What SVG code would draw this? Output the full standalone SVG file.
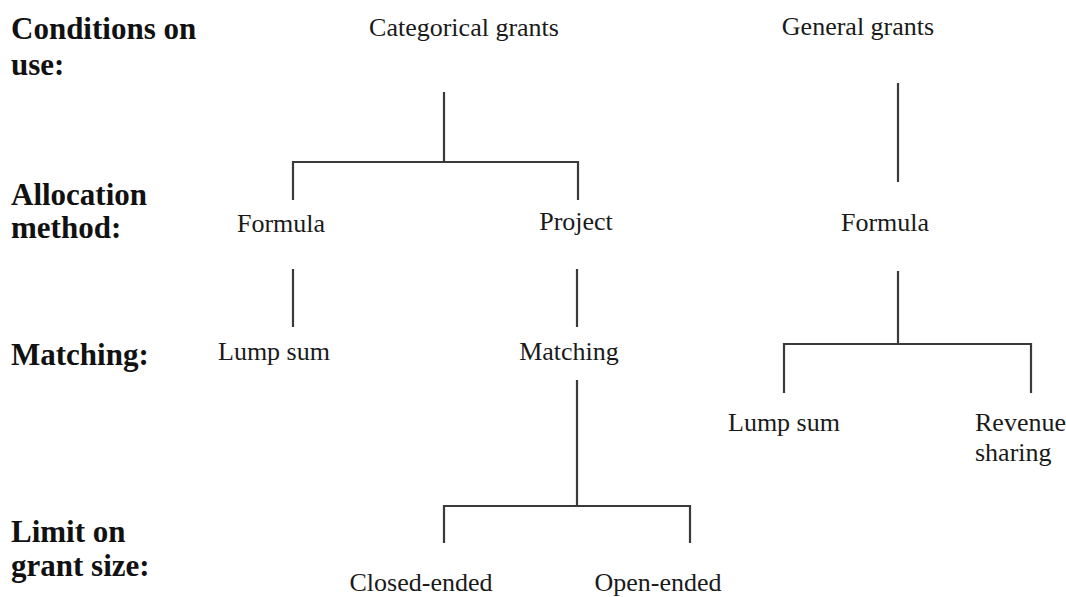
<svg xmlns="http://www.w3.org/2000/svg" width="1066" height="597" viewBox="0 0 1066 597">
<style>
.lbl{font-family:"Liberation Serif","Times New Roman",serif;font-size:31px;font-weight:bold;fill:#111}
.t{font-family:"Liberation Serif","Times New Roman",serif;font-size:26px;fill:#1a1a1a;text-anchor:middle}
.ts{font-family:"Liberation Serif","Times New Roman",serif;font-size:26px;fill:#1a1a1a}
.c{stroke:#3a3a3a;stroke-width:2.2;fill:none}
</style>
<rect width="1066" height="597" fill="#fff"/>
<g id="row-labels">
<text class="lbl" x="11" y="39">Conditions on</text>
<text class="lbl" x="11" y="75">use:</text>
<text class="lbl" x="11" y="205">Allocation</text>
<text class="lbl" x="11" y="238">method:</text>
<text class="lbl" x="11" y="365">Matching:</text>
<text class="lbl" x="11" y="542">Limit on</text>
<text class="lbl" x="11" y="576">grant size:</text>
</g>
<g id="connectors">
<path class="c" d="M444 92V162M293 200V162H578V200"/>
<path class="c" d="M293 269V327M577 269V327"/>
<path class="c" d="M577 380V506M444 543V506H690V543"/>
<path class="c" d="M898 83V182"/>
<path class="c" d="M898 271V344M784 393V344H1031V393"/>
</g>
<g id="categorical-grants"><text class="t" x="464" y="36">Categorical grants</text></g>
<g id="general-grants"><text class="t" x="858" y="35">General grants</text></g>
<g id="formula-cat"><text class="t" x="281" y="232">Formula</text></g>
<g id="project"><text class="t" x="576" y="230">Project</text></g>
<g id="formula-gen"><text class="t" x="885" y="231">Formula</text></g>
<g id="lump-sum-cat"><text class="t" x="274" y="360">Lump sum</text></g>
<g id="matching"><text class="t" x="569" y="360">Matching</text></g>
<g id="lump-sum-gen"><text class="t" x="784" y="431">Lump sum</text></g>
<g id="revenue-sharing"><text class="ts" x="975" y="431">Revenue</text><text class="ts" x="975" y="461">sharing</text></g>
<g id="closed-ended"><text class="t" x="421" y="591">Closed-ended</text></g>
<g id="open-ended"><text class="t" x="658" y="591">Open-ended</text></g>
</svg>
